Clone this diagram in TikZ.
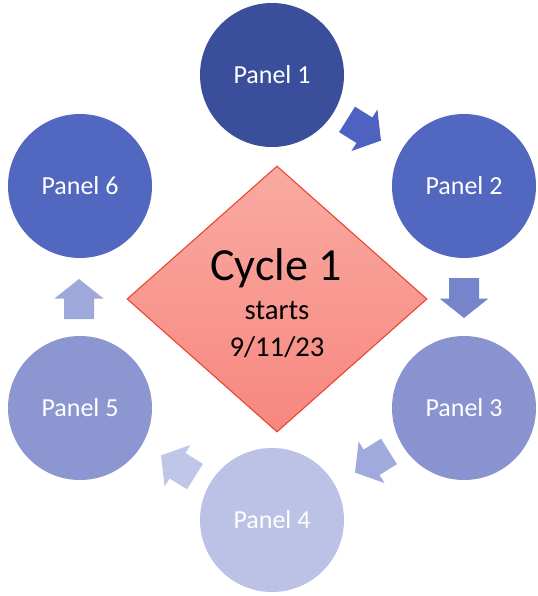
\documentclass[tikz,border=0pt]{standalone}
\usepackage{fontspec}
\setmainfont{Carlito}
\usetikzlibrary{shapes.geometric}
\definecolor{pOne}{HTML}{3B4E9B}
\definecolor{pTwo}{HTML}{5267BF}
\definecolor{pThree}{HTML}{8893CF}
\definecolor{pFour}{HTML}{BCC2E5}
\definecolor{pFive}{HTML}{8C97D1}
\definecolor{pSix}{HTML}{5267BF}
\definecolor{aOne}{HTML}{4E63C1}
\definecolor{aTwo}{HTML}{7584CB}
\definecolor{aThree}{HTML}{A0AADC}
\definecolor{aFour}{HTML}{C0C6E7}
\definecolor{aFive}{HTML}{9EA8DA}
\definecolor{dTop}{HTML}{F9AAA2}
\definecolor{dBot}{HTML}{F7877F}
\definecolor{dLine}{HTML}{E8432F}
\begin{document}
\begin{tikzpicture}[x=0.75pt,y=-0.75pt,
  panel/.style={circle, minimum size=108pt, inner sep=0pt, text=white,
    font=\fontsize{19.5}{23}\selectfont},
  centre/.style={diamond, minimum width=225pt, minimum height=199.5pt, inner sep=0pt,
    draw=dLine, line width=0.8pt, top color=dTop, bottom color=dBot},
  pics/blockarrow/.style={code={
    \fill[#1] (-20,-15) -- (0.5,-15) -- (0.5,-24.5) -- (20,0) -- (0.5,24.5) -- (0.5,15) -- (-20,15) -- cycle;}}
]
\useasboundingbox (0,0) rectangle (538,596);
\node[centre] (dia) at (277,299) {};
\node[anchor=base, font=\fontsize{34.5}{40}\selectfont] (cyc) at (276,280) {Cycle 1};
\node[anchor=base, font=\fontsize{21.5}{26}\selectfont] (sta) at (277,319) {starts};
\node[anchor=base, font=\fontsize{21.5}{26}\selectfont] (dat) at (277,356) {9/11/23};

\node[panel, fill=pOne] (p1) at (272,75) {Panel 1\hspace{10pt}};
\node[panel, fill=pTwo] (p2) at (464,186) {Panel 2};
\node[panel, fill=pThree] (p3) at (464,408) {Panel 3};
\node[panel, fill=pFour] (p4) at (272,520) {Panel 4};
\node[panel, fill=pFive] (p5) at (80,408) {Panel 5};
\node[panel, fill=pSix] (p6) at (80,186) {Panel 6};

\pic (a1) [rotate=-32] at (364,130) {blockarrow=aOne};
\pic (a2) [rotate=-90] at (464,298) {blockarrow=aTwo};
\pic (a3) [rotate=-148] at (372,462) {blockarrow=aThree};
\pic (a4) [rotate=148] at (178,466) {blockarrow=aFour};
\pic (a5) [rotate=90] at (79,299) {blockarrow=aFive};
\end{tikzpicture}
\end{document}
